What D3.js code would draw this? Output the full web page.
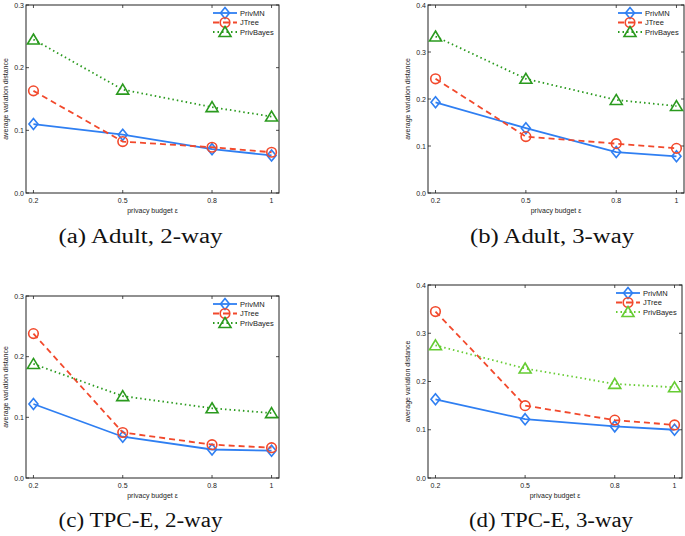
<!DOCTYPE html>
<html>
<head>
<meta charset="utf-8">
<script src="https://cdn.jsdelivr.net/npm/d3@7"></script>
<style>
  html, body { margin: 0; padding: 0; background: #fff; }
  svg { display: block; }
  .tick-label { font-family: "Liberation Sans", Arial, sans-serif; font-size: 7px; fill: #222; }
  .axis-title { font-family: "Liberation Sans", Arial, sans-serif; font-size: 7px; fill: #222; }
  .legend-text { font-family: "Liberation Sans", Arial, sans-serif; font-size: 7.5px; fill: #222; }
  .caption { font-family: "Liberation Serif", "DejaVu Serif", serif; font-size: 20px; fill: #111; }
</style>
</head>
<body>
<svg id="chart" width="685" height="536"></svg>
<script>
// privacy budget values on the x axis
const budgets = [0.2, 0.5, 0.8, 1]
const budgetLabels = ["0.2", "0.5", "0.8", "1"]
const seriesNames = ["PrivMN", "JTree", "PrivBayes"]

// average variation distance, one row per series (PrivMN, JTree, PrivBayes)
const adult2way = [
    [0.110, 0.093, 0.070, 0.060],
    [0.163, 0.082, 0.073, 0.065],
    [0.245, 0.165, 0.137, 0.122],
]
const adult3way = [
    [0.193, 0.138, 0.087, 0.078],
    [0.243, 0.120, 0.105, 0.095],
    [0.333, 0.243, 0.198, 0.185],
]
const tpce2way = [
    [0.122, 0.068, 0.047, 0.045],
    [0.238, 0.075, 0.055, 0.050],
    [0.188, 0.135, 0.115, 0.107],
]
const tpce3way = [
    [0.163, 0.122, 0.107, 0.100],
    [0.345, 0.150, 0.120, 0.110],
    [0.275, 0.227, 0.195, 0.188],
]

const captions = ["(a) Adult, 2-way", "(b) Adult, 3-way", "(c) TPC-E, 2-way", "(d) TPC-E, 3-way"]
const yTicksA = [0, 0.1, 0.2, 0.3]
const yTicksB = [0, 0.1, 0.2, 0.3, 0.4]

const panels = [
    { data: adult2way, yMax: 0.3, yTicks: yTicksA, box: { left: 26, top: 5, right: 279, bottom: 193 }, bayesColor: "#2a9a1e", capY: 243 },
    { data: adult3way, yMax: 0.4, yTicks: yTicksB, box: { left: 428, top: 5, right: 684, bottom: 193 }, bayesColor: "#2a9a1e", capY: 243 },
    { data: tpce2way, yMax: 0.3, yTicks: yTicksA, box: { left: 26, top: 296, right: 279, bottom: 478 }, bayesColor: "#2a9a1e", capY: 527 },
    { data: tpce3way, yMax: 0.4, yTicks: yTicksB, box: { left: 428, top: 285, right: 682, bottom: 478 }, bayesColor: "#66cc33", capY: 527 },
]

const svg = d3.select('#chart')

function drawMarker(g, kind, x, y, color) {
    if (kind === 0) {
        g.append('path')
            .attr('d', `M${x},${y - 5.5}L${x + 4.5},${y}L${x},${y + 5.5}L${x - 4.5},${y}Z`)
            .attr('fill', 'none').attr('stroke', color).attr('stroke-width', 1.6)
    } else if (kind === 1) {
        g.append('circle')
            .attr('cx', x).attr('cy', y).attr('r', 4.8)
            .attr('fill', 'none').attr('stroke', color).attr('stroke-width', 1.6)
    } else {
        g.append('path')
            .attr('d', `M${x},${y - 5.5}L${x + 6},${y + 4.5}L${x - 6},${y + 4.5}Z`)
            .attr('fill', 'none').attr('stroke', color).attr('stroke-width', 1.6)
    }
}

panels.forEach((p, i) => {
    const b = p.box
    const g = svg.append('g')

    const x = d3.scaleLinear().domain([0.175, 1.025]).range([b.left, b.right])
    const y = d3.scaleLinear().domain([0, p.yMax]).range([b.bottom, b.top])

    const colors = ["#2f7ff2", "#f2492c", p.bayesColor]
    const dashes = [null, "6,4", "1.5,3"]

    // frame
    g.append('rect')
        .attr('x', b.left).attr('y', b.top)
        .attr('width', b.right - b.left).attr('height', b.bottom - b.top)
        .attr('fill', 'none').attr('stroke', '#222').attr('stroke-width', 1)

    // x ticks (inside, top and bottom)
    budgets.forEach((v, k) => {
        const xx = x(v)
        g.append('line').attr('x1', xx).attr('x2', xx).attr('y1', b.bottom).attr('y2', b.bottom - 3)
            .attr('stroke', '#222').attr('stroke-width', 0.8)
        g.append('line').attr('x1', xx).attr('x2', xx).attr('y1', b.top).attr('y2', b.top + 3)
            .attr('stroke', '#222').attr('stroke-width', 0.8)
        g.append('text').attr('class', 'tick-label')
            .attr('x', xx).attr('y', b.bottom + 10)
            .attr('text-anchor', 'middle')
            .text(budgetLabels[k])
    })

    // y ticks (inside, left and right)
    p.yTicks.forEach(v => {
        const yy = y(v)
        g.append('line').attr('x1', b.left).attr('x2', b.left + 3).attr('y1', yy).attr('y2', yy)
            .attr('stroke', '#222').attr('stroke-width', 0.8)
        g.append('line').attr('x1', b.right).attr('x2', b.right - 3).attr('y1', yy).attr('y2', yy)
            .attr('stroke', '#222').attr('stroke-width', 0.8)
        g.append('text').attr('class', 'tick-label')
            .attr('x', b.left - 2).attr('y', yy + 2.5)
            .attr('text-anchor', 'end')
            .text(d3.format('.1f')(v))
    })

    // axis titles
    g.append('text').attr('class', 'axis-title')
        .attr('x', (b.left + b.right) / 2).attr('y', b.bottom + 20)
        .attr('text-anchor', 'middle')
        .text('privacy budget ε')
    g.append('text').attr('class', 'axis-title')
        .attr('transform', `translate(${b.left - 18},${(b.top + b.bottom) / 2}) rotate(-90)`)
        .attr('text-anchor', 'middle')
        .text('average variation distance')

    // series lines and markers
    const line = d3.line().x((d, k) => x(budgets[k])).y(d => y(d))
    p.data.forEach((vals, s) => {
        g.append('path')
            .attr('d', line(vals))
            .attr('fill', 'none')
            .attr('stroke', colors[s])
            .attr('stroke-width', 1.8)
            .attr('stroke-dasharray', dashes[s])
        vals.forEach((v, k) => drawMarker(g, s, x(budgets[k]), y(v), colors[s]))
    })

    // legend
    const lx = b.right - 66
    seriesNames.forEach((name, s) => {
        const ly = b.top + 8 + s * 9.5
        g.append('line').attr('x1', lx).attr('x2', lx + 24).attr('y1', ly).attr('y2', ly)
            .attr('stroke', colors[s]).attr('stroke-width', 1.8)
            .attr('stroke-dasharray', dashes[s])
        drawMarker(g, s, lx + 12, ly, colors[s])
        g.append('text').attr('class', 'legend-text')
            .attr('x', lx + 27).attr('y', ly + 2.6)
            .text(name)
    })

    // caption
    svg.append('text').attr('class', 'caption')
        .attr('x', (b.left + b.right) / 2 + (i % 2 === 0 ? -12 : -4)).attr('y', p.capY)
        .attr('text-anchor', 'middle')
        .attr('textLength', 164)
        .attr('lengthAdjust', 'spacingAndGlyphs')
        .text(captions[i])
})
</script>
</body>
</html>
